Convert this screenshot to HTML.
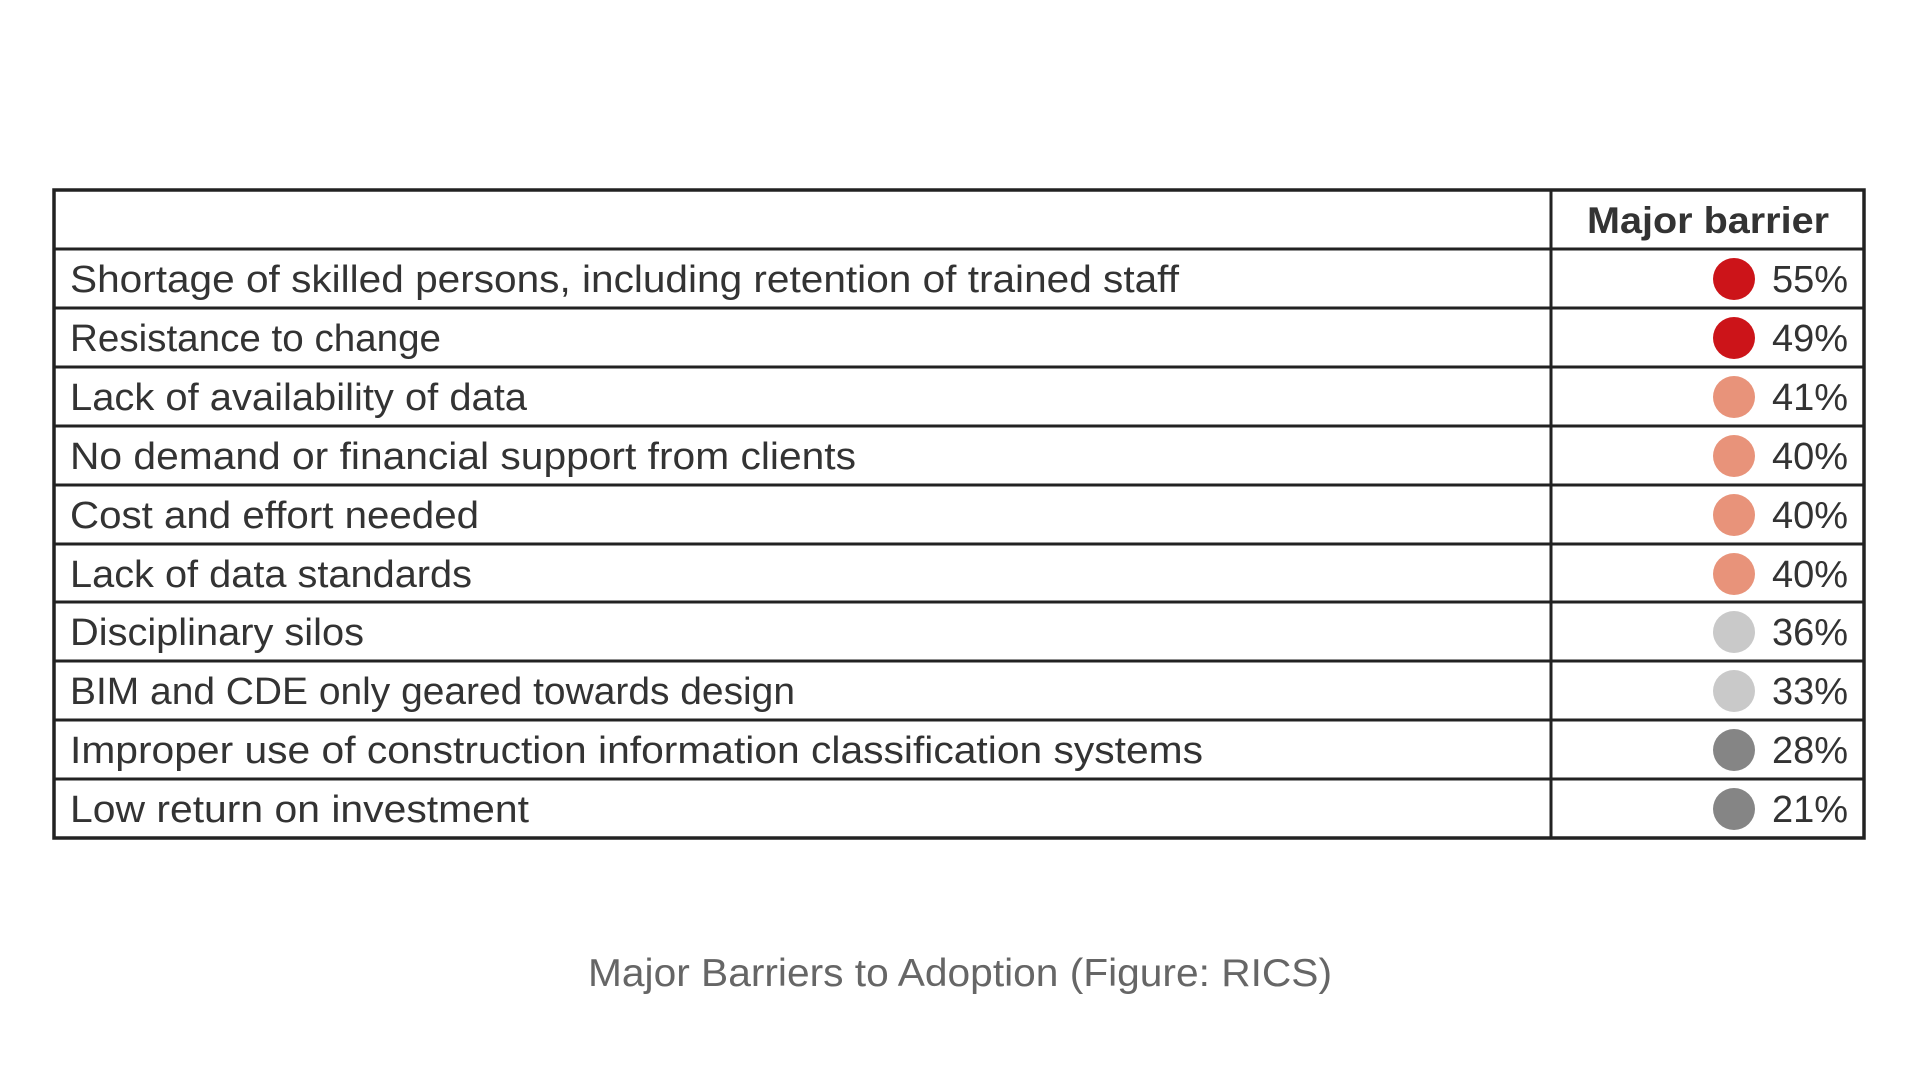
<!DOCTYPE html>
<html><head><meta charset="utf-8"><style>html,body{margin:0;padding:0;background:#fff}svg{display:block}</style></head>
<body>
<svg width="1920" height="1080" viewBox="0 0 1920 1080" xmlns="http://www.w3.org/2000/svg" font-family="Liberation Sans, DejaVu Sans, sans-serif">
<rect x="54" y="190" width="1810" height="648" fill="#fff" stroke="#222" stroke-width="3.5"/>
<line x1="1551" y1="190" x2="1551" y2="838" stroke="#222" stroke-width="3"/>
<g stroke="#222" stroke-width="3">
<line x1="54" y1="249" x2="1864" y2="249"/>
<line x1="54" y1="308" x2="1864" y2="308"/>
<line x1="54" y1="367" x2="1864" y2="367"/>
<line x1="54" y1="426" x2="1864" y2="426"/>
<line x1="54" y1="485" x2="1864" y2="485"/>
<line x1="54" y1="544" x2="1864" y2="544"/>
<line x1="54" y1="602" x2="1864" y2="602"/>
<line x1="54" y1="661" x2="1864" y2="661"/>
<line x1="54" y1="720" x2="1864" y2="720"/>
<line x1="54" y1="779" x2="1864" y2="779"/>
</g>
<text x="1587" y="233" font-size="37" font-weight="bold" fill="#333" textLength="242" lengthAdjust="spacingAndGlyphs">Major barrier</text>
<g font-size="38" fill="#333">
<text x="70" y="292" textLength="1109" lengthAdjust="spacingAndGlyphs">Shortage of skilled persons, including retention of trained staff</text>
<text x="70" y="351" textLength="371" lengthAdjust="spacingAndGlyphs">Resistance to change</text>
<text x="70" y="410" textLength="457" lengthAdjust="spacingAndGlyphs">Lack of availability of data</text>
<text x="70" y="469" textLength="786" lengthAdjust="spacingAndGlyphs">No demand or financial support from clients</text>
<text x="70" y="528" textLength="409" lengthAdjust="spacingAndGlyphs">Cost and effort needed</text>
<text x="70" y="587" textLength="402" lengthAdjust="spacingAndGlyphs">Lack of data standards</text>
<text x="70" y="645" textLength="294" lengthAdjust="spacingAndGlyphs">Disciplinary silos</text>
<text x="70" y="704" textLength="725" lengthAdjust="spacingAndGlyphs">BIM and CDE only geared towards design</text>
<text x="70" y="763" textLength="1133" lengthAdjust="spacingAndGlyphs">Improper use of construction information classification systems</text>
<text x="70" y="822" textLength="459" lengthAdjust="spacingAndGlyphs">Low return on investment</text>
</g>
<g>
<circle cx="1734" cy="279" r="21" fill="#cc1419"/>
<circle cx="1734" cy="338" r="21" fill="#cc1419"/>
<circle cx="1734" cy="397" r="21" fill="#e8937a"/>
<circle cx="1734" cy="456" r="21" fill="#e8937a"/>
<circle cx="1734" cy="515" r="21" fill="#e8937a"/>
<circle cx="1734" cy="574" r="21" fill="#e8937a"/>
<circle cx="1734" cy="632" r="21" fill="#c9c9c9"/>
<circle cx="1734" cy="691" r="21" fill="#c9c9c9"/>
<circle cx="1734" cy="750" r="21" fill="#858585"/>
<circle cx="1734" cy="809" r="21" fill="#858585"/>
</g>
<g font-size="38" fill="#333" text-anchor="end">
<text x="1848" y="292">55%</text>
<text x="1848" y="351">49%</text>
<text x="1848" y="410">41%</text>
<text x="1848" y="469">40%</text>
<text x="1848" y="528">40%</text>
<text x="1848" y="587">40%</text>
<text x="1848" y="645">36%</text>
<text x="1848" y="704">33%</text>
<text x="1848" y="763">28%</text>
<text x="1848" y="822">21%</text>
</g>
<text x="588" y="986" font-size="39" fill="#666" textLength="744" lengthAdjust="spacingAndGlyphs">Major Barriers to Adoption (Figure: RICS)</text>
</svg>
</body></html>
